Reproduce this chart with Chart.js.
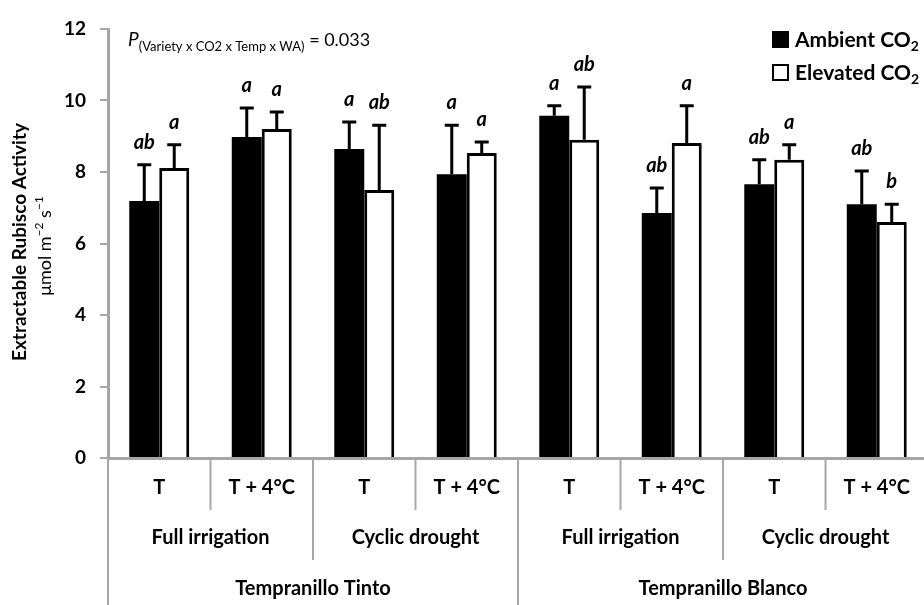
<!DOCTYPE html>
<html>
<head>
<meta charset="utf-8">
<script src="https://cdn.jsdelivr.net/npm/chart.js@4.4.1/dist/chart.umd.min.js"></script>
<style>
  html, body { margin: 0; padding: 0; background: #fff; overflow: hidden; }
  #wrap { width: 928px; height: 605px; }
</style>
</head>
<body>
<div id="wrap"><canvas id="chart" width="928" height="605"></canvas></div>
<script>
// values
const temps = ['T', 'T + 4°C', 'T', 'T + 4°C', 'T', 'T + 4°C', 'T', 'T + 4°C'];
const waterRegimes = ['Full irrigation', 'Cyclic drought', 'Full irrigation', 'Cyclic drought'];
const varieties = ['Tempranillo Tinto', 'Tempranillo Blanco'];

const ambient = [7.19, 8.98, 8.64, 7.94, 9.57, 6.85, 7.66, 7.10];
const ambientSE = [1.01, 0.81, 0.76, 1.37, 0.28, 0.70, 0.68, 0.93];
const elevated = [8.11, 9.20, 7.50, 8.53, 8.90, 8.81, 8.34, 6.60];
const elevatedSE = [0.65, 0.48, 1.81, 0.31, 1.48, 1.04, 0.42, 0.50];

const ambientLetters = ['ab', 'a', 'a', 'a', 'a', 'ab', 'ab', 'ab'];
const elevatedLetters = ['a', 'a', 'ab', 'a', 'ab', 'a', 'a', 'b'];

const yTicks = [0, 2, 4, 6, 8, 10, 12];

const FONT = 'Lato, "Open Sans", sans-serif';
const GRAY = '#a6a6a6';

// draw a run of text pieces (for sub/superscripts)
const drawRich = (ctx, parts, x, y, align = 'center') => {
  let total = 0;
  parts.forEach(p => { ctx.font = p.font; total += ctx.measureText(p.text).width; });
  let cx = align === 'center' ? x - total / 2 : x;
  ctx.textAlign = 'left';
  ctx.textBaseline = 'alphabetic';
  parts.forEach(p => {
    ctx.font = p.font;
    ctx.fillText(p.text, cx, y + (p.dy || 0));
    cx += ctx.measureText(p.text).width;
  });
};

const errorBars = {
  id: 'errorBars',
  afterDatasetsDraw(chart) {
    const { ctx, scales: { y } } = chart;
    const errs = [ambientSE, elevatedSE];
    const letters = [ambientLetters, elevatedLetters];
    ctx.save();
    ctx.strokeStyle = '#000';
    ctx.fillStyle = '#000';
    ctx.lineWidth = 3;
    chart.data.datasets.forEach((ds, di) => {
      chart.getDatasetMeta(di).data.forEach((bar, i) => {
        const top = y.getPixelForValue(ds.data[i] + errs[di][i]);
        ctx.beginPath();
        ctx.moveTo(bar.x, bar.y);
        ctx.lineTo(bar.x, top);
        ctx.moveTo(bar.x - 7, top);
        ctx.lineTo(bar.x + 7, top);
        ctx.stroke();
        ctx.font = 'italic bold 20px ' + FONT;
        ctx.textAlign = 'center';
        ctx.textBaseline = 'alphabetic';
        ctx.fillText(letters[di][i], bar.x, top - 16);
      });
    });
    ctx.restore();
  }
};

const decorations = {
  id: 'decorations',
  afterDraw(chart) {
    const { ctx, chartArea: a, scales: { x } } = chart;
    const step = x.getPixelForValue(1) - x.getPixelForValue(0);
    const edge = i => x.getPixelForValue(i) - step / 2;
    ctx.save();

    // category separators below the axis
    ctx.strokeStyle = GRAY;
    ctx.lineWidth = 2;
    for (let i = 0; i <= temps.length; i++) {
      let drop = 52;
      if (i % 2 === 0) drop = 102;
      if (i % 4 === 0) drop = 147;
      ctx.beginPath();
      ctx.moveTo(edge(i), a.bottom + 1);
      ctx.lineTo(edge(i), a.bottom + drop);
      ctx.stroke();
    }

    // three rows of category labels
    ctx.fillStyle = '#000';
    ctx.textAlign = 'center';
    ctx.textBaseline = 'middle';
    ctx.font = 'bold 20px ' + FONT;
    temps.forEach((t, i) => ctx.fillText(t, x.getPixelForValue(i), a.bottom + 30));
    waterRegimes.forEach((w, i) => ctx.fillText(w, (edge(i * 2) + edge(i * 2 + 2)) / 2, a.bottom + 80));
    varieties.forEach((v, i) => ctx.fillText(v, (edge(i * 4) + edge(i * 4 + 4)) / 2, a.bottom + 131));

    // y axis title, two lines
    ctx.save();
    ctx.translate(26, 242);
    ctx.rotate(-Math.PI / 2);
    ctx.textAlign = 'center';
    ctx.font = 'bold 19px ' + FONT;
    ctx.textBaseline = 'alphabetic';
    ctx.fillText('Extractable Rubisco Activity', 0, 0);
    drawRich(ctx, [
      { text: 'μmol m', font: '18px ' + FONT },
      { text: '−2', font: '12px ' + FONT, dy: -8 },
      { text: ' s', font: '18px ' + FONT },
      { text: '−1', font: '12px ' + FONT, dy: -8 }
    ], -4, 25);
    ctx.restore();

    // interaction p-value
    drawRich(ctx, [
      { text: 'P', font: 'italic 19px ' + FONT },
      { text: '(Variety x CO2 x Temp x WA)', font: '13px ' + FONT, dy: 5 },
      { text: ' = 0.033', font: '18px ' + FONT }
    ], 128, 46, 'left');

    // legend
    const items = [
      { label: 'Ambient CO', fill: '#000', y: 40 },
      { label: 'Elevated CO', fill: '#fff', y: 73 }
    ];
    items.forEach(it => {
      ctx.fillStyle = it.fill;
      ctx.fillRect(773, it.y - 8, 15, 15);
      ctx.strokeStyle = '#000';
      ctx.lineWidth = 2;
      ctx.strokeRect(773, it.y - 8, 15, 15);
      ctx.fillStyle = '#000';
      drawRich(ctx, [
        { text: it.label, font: 'bold 21px ' + FONT },
        { text: '2', font: 'bold 14px ' + FONT, dy: 4 }
      ], 795, it.y + 7, 'left');
    });

    ctx.restore();
  }
};

new Chart(document.getElementById('chart'), {
  type: 'bar',
  data: {
    labels: temps,
    datasets: [
      {
        label: 'Ambient CO2',
        data: ambient,
        backgroundColor: '#000',
        borderColor: '#000',
        borderWidth: 0,
        categoryPercentage: 0.585,
        barPercentage: 1.0
      },
      {
        label: 'Elevated CO2',
        data: elevated,
        backgroundColor: '#fff',
        borderColor: '#000',
        borderWidth: 3,
        categoryPercentage: 0.585,
        barPercentage: 1.0
      }
    ]
  },
  options: {
    responsive: false,
    animation: false,
    layout: { padding: { top: 29, right: 0, left: 0, bottom: 0 } },
    plugins: {
      legend: { display: false },
      tooltip: { enabled: false }
    },
    scales: {
      x: {
        afterFit: (scale) => { scale.height = 147; },
        ticks: { display: false },
        grid: { display: false },
        border: { display: true, color: GRAY, width: 3 }
      },
      y: {
        min: yTicks[0],
        max: yTicks[yTicks.length - 1],
        afterFit: (scale) => { scale.width = 108; },
        ticks: {
          stepSize: yTicks[1] - yTicks[0],
          color: '#000',
          padding: 14,
          font: { family: FONT, size: 19, weight: 'bold' }
        },
        grid: { drawOnChartArea: false, drawTicks: true, tickLength: 8, color: GRAY, lineWidth: 2 },
        border: { display: true, color: GRAY, width: 3 }
      }
    }
  },
  plugins: [errorBars, decorations]
});
</script>
</body>
</html>
